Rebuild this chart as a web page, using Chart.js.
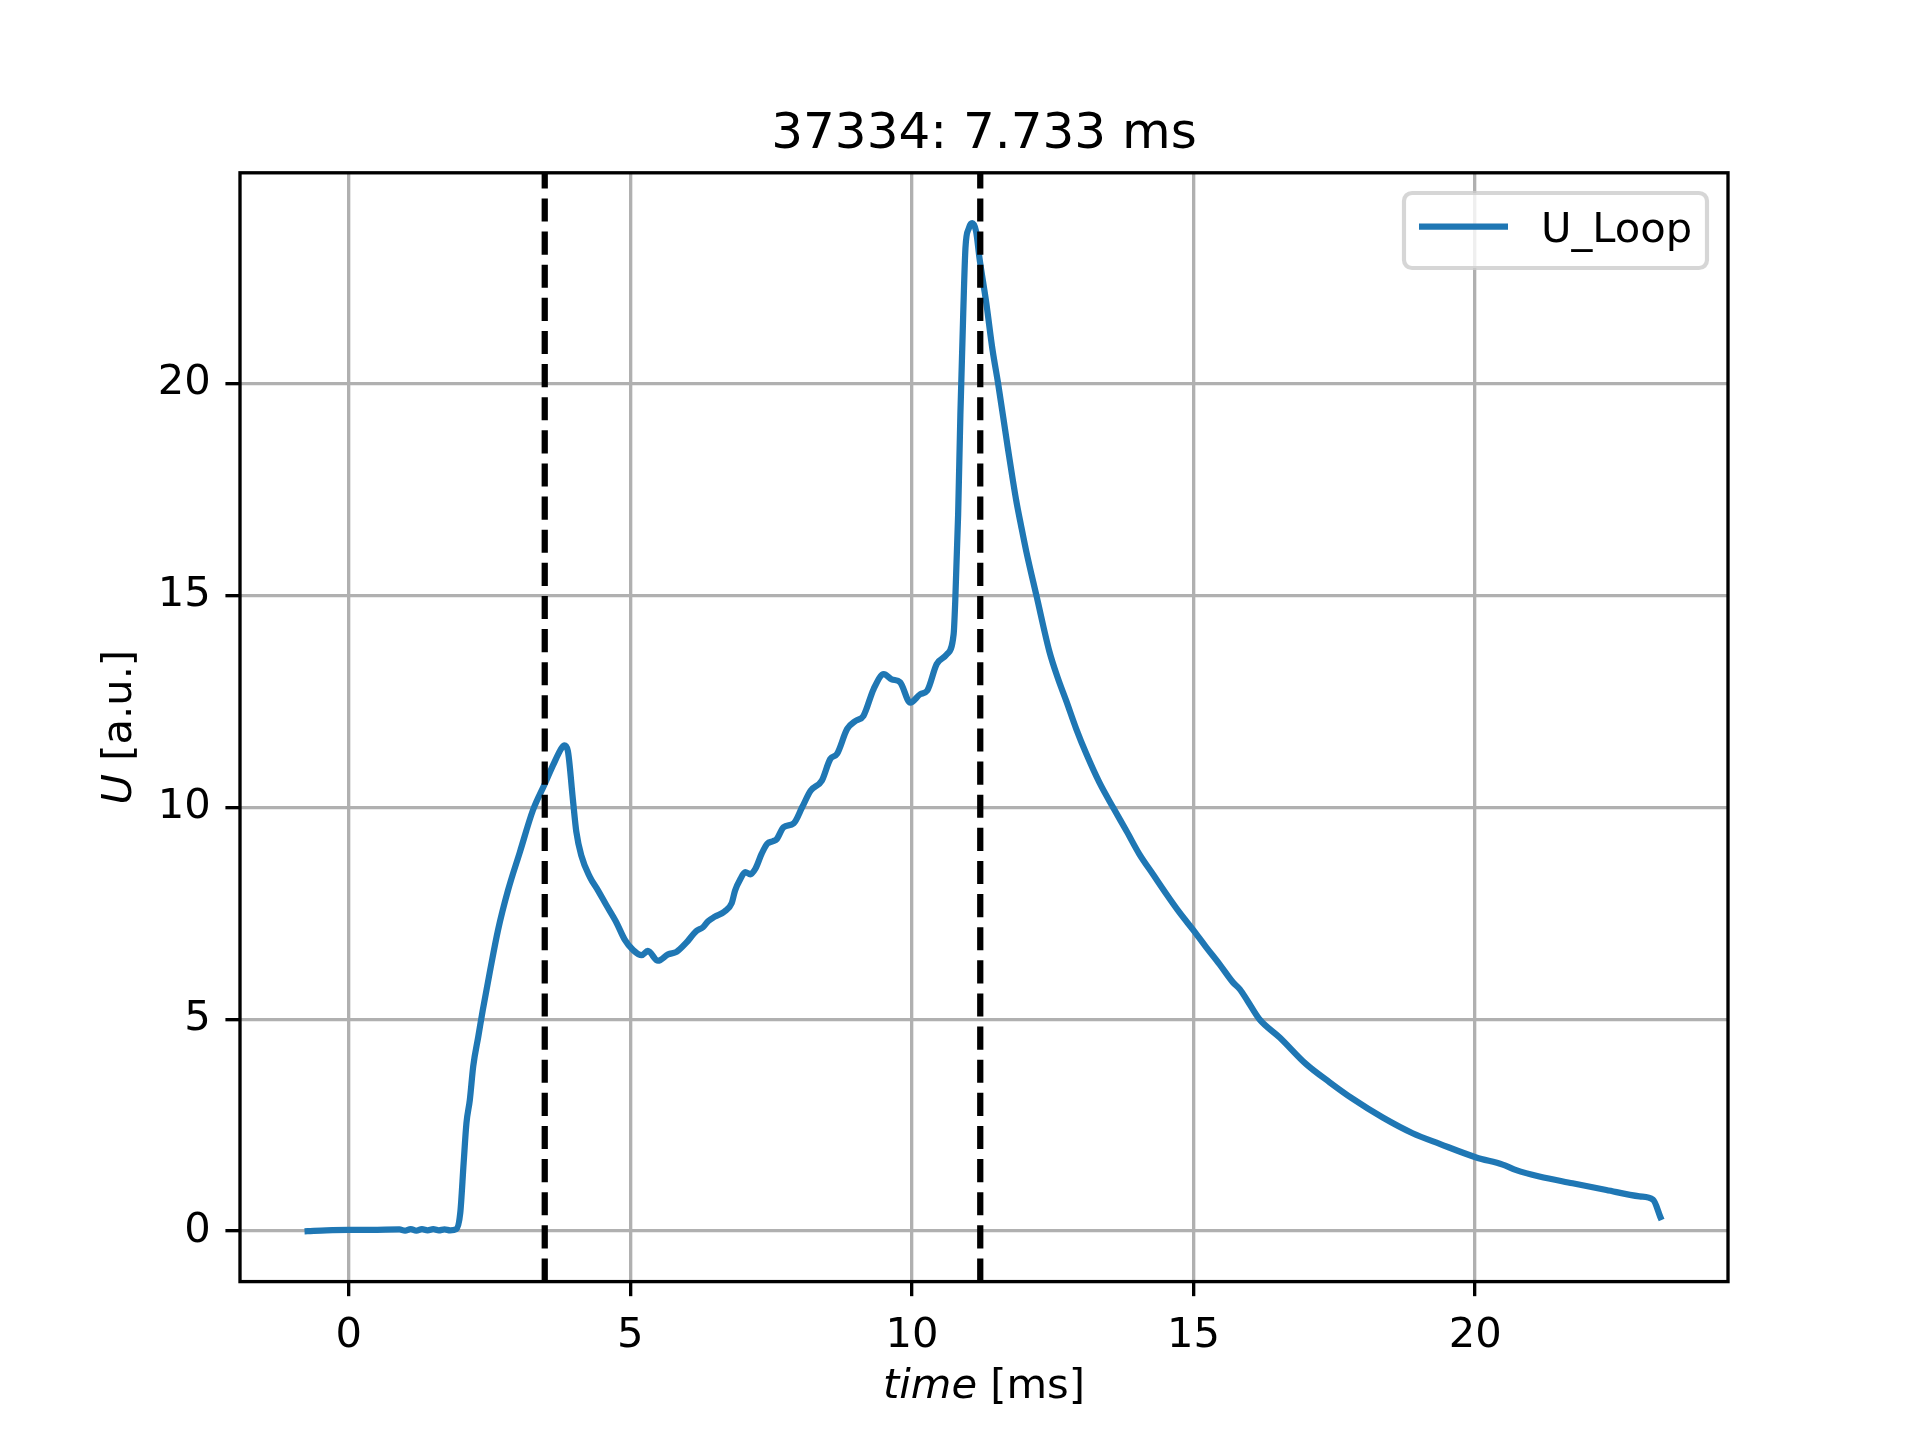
<!DOCTYPE html>
<html>
<head>
<meta charset="utf-8">
<script src="https://cdn.jsdelivr.net/npm/chart.js@4.4.1/dist/chart.umd.min.js"></script>
<style>
  html, body { margin: 0; padding: 0; background: #fff; }
</style>
</head>
<body>
<canvas id="chart" width="1920" height="1440"></canvas>
<script>
// U_Loop trace, values
const timeMs = [-0.73, -0.40, 0.00, 0.40, 0.90, 1.00, 1.10, 1.20, 1.30, 1.40, 1.50, 1.60, 1.70, 1.80, 1.91,
    1.98, 2.04, 2.09, 2.15, 2.21, 2.30, 2.38, 2.50, 2.65, 2.83, 3.04, 3.27, 3.48, 3.63, 3.78, 3.83, 3.89, 3.98,
    4.04, 4.13, 4.28, 4.43, 4.57, 4.75, 4.90, 5.05, 5.20, 5.31, 5.49, 5.67, 5.82, 5.99, 6.17, 6.29,
    6.38, 6.50, 6.67, 6.80, 6.86, 6.95, 7.04, 7.13, 7.22, 7.33, 7.43, 7.53, 7.60, 7.72, 7.90, 8.05,
    8.20, 8.40, 8.55, 8.67, 8.85, 9.00, 9.14, 9.32, 9.50, 9.64, 9.79, 9.97, 10.15, 10.27, 10.44, 10.62,
    10.74, 10.77, 10.82, 10.86, 10.91, 10.95, 11.01, 11.07, 11.14, 11.20, 11.32, 11.43, 11.53, 11.70,
    11.85, 11.94, 12.03, 12.21, 12.44, 12.59, 12.74, 12.92, 13.10, 13.33, 13.57, 13.81, 14.04, 14.28,
    14.52, 14.75, 15.01, 15.23, 15.46, 15.70, 15.82, 15.96, 16.17,
    16.53, 17.00, 17.42, 17.83, 18.36, 18.89, 19.37, 20.02, 20.49, 20.73, 21.14, 21.73, 22.33, 22.92,
    23.16, 23.29];
const uLoop = [0.00, 0.02, 0.03, 0.03, 0.04, 0.01, 0.05, 0.01, 0.05, 0.02, 0.05, 0.02, 0.04, 0.02, 0.05,
    0.43, 1.61, 2.55, 3.10, 3.89, 4.59, 5.22, 6.08, 7.10, 8.05, 8.95, 9.93, 10.55, 11.00, 11.40, 11.46, 11.33, 10.18,
    9.43, 8.86, 8.36, 8.03, 7.70, 7.29, 6.88, 6.63, 6.51, 6.61, 6.38, 6.53, 6.59, 6.80, 7.08, 7.17,
    7.31, 7.42, 7.54, 7.74, 8.04, 8.30, 8.47, 8.42, 8.55, 8.90, 9.14, 9.20, 9.25, 9.53, 9.62, 10.00,
    10.39, 10.63, 11.14, 11.26, 11.85, 12.04, 12.16, 12.79, 13.14, 13.02, 12.95, 12.47, 12.67, 12.75, 13.38, 13.61,
    14.08, 14.90, 16.90, 19.26, 21.62, 23.19, 23.66, 23.78, 23.58, 22.95, 21.90, 20.80, 20.00, 18.50,
    17.25, 16.63, 16.04, 15.00, 13.68, 13.05, 12.51, 11.84, 11.25, 10.58, 10.00, 9.44, 8.89, 8.42,
    7.95, 7.52, 7.08, 6.69, 6.30, 5.87, 5.71, 5.43, 5.00,
    4.57, 3.94, 3.51, 3.12, 2.68, 2.31, 2.06, 1.74, 1.57, 1.44, 1.29, 1.13, 0.97, 0.82,
    0.74, 0.33];
const markerTimes = [3.48, 11.213];
const xTicks = [0, 5, 10, 15, 20];
const yTicks = [0, 5, 10, 15, 20];
const xRange = [-1.931, 24.49];
const yRange = [-1.19, 24.97];
const titleText = '37334: 7.733 ms';

const FONT = '"DejaVu Sans", sans-serif';
const PT = 300 / 72;

const datasets = [{
    label: 'U_Loop',
    data: timeMs.map((t, i) => ({ x: t, y: uLoop[i] })),
    borderColor: '#1f77b4',
    borderWidth: 1.5 * PT,
    borderJoinStyle: 'round',
    borderCapStyle: 'square',
    cubicInterpolationMode: 'monotone',
    pointRadius: 0,
    order: 1
}];
markerTimes.forEach(t => {
    datasets.push({
        label: '',
        data: [{ x: t, y: yRange[0] }, { x: t, y: yRange[1] }],
        borderColor: '#000',
        borderWidth: 1.5 * PT,
        borderDash: [5.55 * PT, 2.4 * PT],
        borderCapStyle: 'butt',
        pointRadius: 0,
        order: 0
    });
});

// spines, title, axis labels and legend
const decorations = {
    id: 'decorations',
    afterDraw(chart) {
        const ctx = chart.ctx;
        const a = chart.chartArea;
        const cx = (a.left + a.right) / 2;
        const cy = (a.top + a.bottom) / 2;
        ctx.save();

        ctx.strokeStyle = '#000';
        ctx.lineWidth = 0.8 * PT;
        ctx.lineJoin = 'miter';
        ctx.strokeRect(a.left, a.top, a.right - a.left, a.bottom - a.top);

        ctx.fillStyle = '#000';
        ctx.textBaseline = 'alphabetic';
        ctx.textAlign = 'center';
        ctx.font = `${12 * PT}px ${FONT}`;
        ctx.fillText(titleText, cx, a.top - 6 * PT);

        // x label: "time" italic + " [ms]"
        const fs = 10 * PT;
        ctx.textAlign = 'left';
        ctx.font = `italic ${fs}px ${FONT}`;
        const w1 = ctx.measureText('time').width;
        ctx.font = `${fs}px ${FONT}`;
        const w2 = ctx.measureText(' [ms]').width;
        let x0 = cx - (w1 + w2) / 2;
        ctx.font = `italic ${fs}px ${FONT}`;
        ctx.fillText('time', x0, 1398.3);
        ctx.font = `${fs}px ${FONT}`;
        ctx.fillText(' [ms]', x0 + w1, 1398.3);

        // y label: "U" italic + " [a.u.]", rotated
        ctx.save();
        ctx.translate(131.3, cy);
        ctx.rotate(-Math.PI / 2);
        ctx.font = `italic ${fs}px ${FONT}`;
        const v1 = ctx.measureText('U').width;
        ctx.font = `${fs}px ${FONT}`;
        const v2 = ctx.measureText(' [a.u.]').width;
        x0 = -(v1 + v2) / 2;
        ctx.font = `italic ${fs}px ${FONT}`;
        ctx.fillText('U', x0, 0);
        ctx.font = `${fs}px ${FONT}`;
        ctx.fillText(' [a.u.]', x0 + v1, 0);
        ctx.restore();

        // legend
        const ds = chart.data.datasets[0];
        const bx = 1404, by = 193, bw = 303, bh = 75, r = 8;
        ctx.beginPath();
        ctx.moveTo(bx + r, by);
        ctx.arcTo(bx + bw, by, bx + bw, by + bh, r);
        ctx.arcTo(bx + bw, by + bh, bx, by + bh, r);
        ctx.arcTo(bx, by + bh, bx, by, r);
        ctx.arcTo(bx, by, bx + bw, by, r);
        ctx.closePath();
        ctx.fillStyle = 'rgba(255,255,255,0.8)';
        ctx.fill();
        ctx.strokeStyle = 'rgba(204,204,204,0.8)';
        ctx.lineWidth = 1.0 * PT;
        ctx.stroke();

        ctx.beginPath();
        ctx.moveTo(1419, 226.7);
        ctx.lineTo(1508, 226.7);
        ctx.strokeStyle = ds.borderColor;
        ctx.lineWidth = ds.borderWidth;
        ctx.lineCap = 'butt';
        ctx.stroke();

        ctx.fillStyle = '#000';
        ctx.font = `${fs}px ${FONT}`;
        ctx.textAlign = 'left';
        ctx.fillText(ds.label, 1541, 241.7);

        ctx.restore();
    }
};

const tickFont = { family: FONT, size: 10 * PT };
const gridStyle = {
    color: '#b0b0b0',
    lineWidth: 0.8 * PT,
    tickLength: 3.5 * PT,
    tickColor: '#000',
    tickWidth: 0.8 * PT,
    drawTicks: true
};

new Chart(document.getElementById('chart'), {
    type: 'line',
    data: { datasets: datasets },
    options: {
        responsive: false,
        animation: false,
        devicePixelRatio: 1,
        layout: { padding: { left: 0, right: 192, top: 172.8, bottom: 0 } },
        plugins: {
            legend: { display: false },
            title: { display: false },
            tooltip: { enabled: false }
        },
        scales: {
            x: {
                type: 'linear',
                min: xRange[0],
                max: xRange[1],
                afterBuildTicks: s => { s.ticks = xTicks.map(v => ({ value: v })); },
                afterFit: s => { s.height = 158.4; },
                grid: gridStyle,
                border: { display: false },
                ticks: {
                    color: '#000',
                    font: tickFont,
                    padding: 3.5 * PT,
                    maxRotation: 0,
                    autoSkip: false,
                    callback: v => String(v)
                }
            },
            y: {
                type: 'linear',
                min: yRange[0],
                max: yRange[1],
                afterBuildTicks: s => { s.ticks = yTicks.map(v => ({ value: v })); },
                afterFit: s => { s.width = 240; },
                grid: gridStyle,
                border: { display: false },
                ticks: {
                    color: '#000',
                    font: tickFont,
                    padding: 3.5 * PT,
                    autoSkip: false,
                    callback: v => String(v)
                }
            }
        }
    },
    plugins: [decorations]
});
</script>
</body>
</html>
